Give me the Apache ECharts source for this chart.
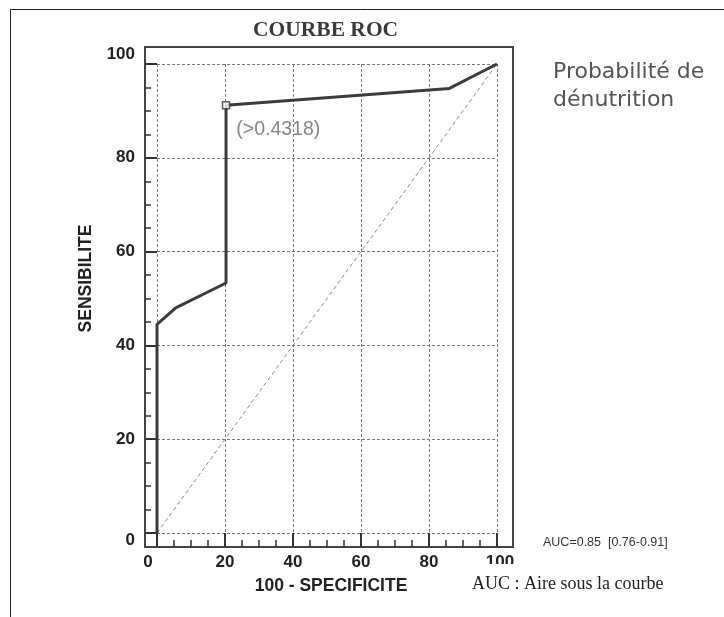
<!DOCTYPE html>
<html><head><meta charset="utf-8">
<script src="https://cdn.jsdelivr.net/npm/echarts@6/dist/echarts.min.js"></script>
<style>html,body{margin:0;padding:0;background:#fff}#c{width:724px;height:617px}</style>
</head><body><div id="c"></div>
<script>
// ROC curve points (100 - specificity, sensitivity)
const rocX = [0, 0, 5.5, 20.3, 20.3, 86, 100];
const rocY = [0, 44.5, 48, 53.3, 91.2, 94.8, 100];
// reference diagonal
const diagX = [0, 100];
const diagY = [0, 100];
// optimal cut-off point
const cutX = [20.3];
const cutY = [91.2];
const cutLabel = '(>0.4318)';
// ticks
const xMajor = [0, 20, 40, 60, 80, 100];
const yMajor = [0, 20, 40, 60, 80, 100];
const xMinor = [5, 10, 15, 25, 30, 35, 45, 50, 55, 65, 70, 75, 85, 90, 95];
const yMinor = [5, 10, 15, 25, 30, 35, 45, 50, 55, 65, 70, 75, 85, 90, 95];
// texts
const titleText = 'COURBE ROC';
const xName = '100 - SPECIFICITE';
const yName = 'SENSIBILITE';
const sideNote = 'Probabilité de\ndénutrition';
const aucText = 'AUC=0.85  [0.76-0.91]';
const aucLegend = 'AUC : Aire sous la courbe';

// layout: outer frame box and inner 0..100 data box
const frame = {left: 145, top: 47, right: 513, bottom: 547};
const inner = {left: 157, top: 64, right: 497, bottom: 533};
const xPx = (inner.right - inner.left) / 100;
const yPx = (inner.bottom - inner.top) / 100;
const xMin = -(inner.left - frame.left) / xPx, xMax = 100 + (frame.right - inner.right) / xPx;
const yMin = -(frame.bottom - inner.bottom) / yPx, yMax = 100 + (inner.top - frame.top) / yPx;

const sans = "'Liberation Sans', Arial, sans-serif";
const tickFont = {fontFamily: sans, fontWeight: 'bold', fontSize: 17, color: '#222'};
const tickLine = {color: '#333', width: 2};
const minorLine = {color: '#333', width: 1.5};

const chart = echarts.init(document.getElementById('c'), null, {renderer: 'canvas'});
const pairs = (xs, ys) => xs.map((x, i) => [x, ys[i]]);

const tickAxis = (grid, min, max, pos, vals, len, ls) => ({
  gridIndex: grid, type: 'value', min: min, max: max, position: pos, offset: 0,
  axisLine: {show: false, onZero: false}, axisLabel: {show: false}, splitLine: {show: false},
  axisTick: {show: true, inside: true, length: len, customValues: vals, lineStyle: ls}
});

chart.setOption({
  animation: false,
  backgroundColor: '#fff',
  title: [
    {text: titleText, left: 253, top: 19, padding: 0,
     textStyle: {fontFamily: "'Liberation Serif', 'Times New Roman', serif", fontWeight: 'bold', fontSize: 21.5, color: '#3a3a3a'}},
    {text: sideNote, left: 553, top: 58, padding: 0,
     textStyle: {fontFamily: "'DejaVu Sans', sans-serif", fontWeight: 'normal', fontSize: 22, lineHeight: 28, color: '#555'}},
    {text: aucText, left: 543, top: 536, padding: 0,
     textStyle: {fontFamily: sans, fontWeight: 'normal', fontSize: 12.5, color: '#333'}},
    {text: aucLegend, left: 472, top: 575, padding: 0, z: 10,
     textStyle: {fontFamily: "'Liberation Serif', 'Times New Roman', serif", fontWeight: 'normal', fontSize: 18, color: '#222'}}
  ],
  graphic: [
    {type: 'rect', shape: {x: 10.5, y: 9.5, width: 900, height: 800}, style: {fill: 'none', stroke: '#222', lineWidth: 1}, silent: true, z: -10},
    {type: 'rect', shape: {x: 482, y: 564, width: 36, height: 10}, style: {fill: '#fff'}, silent: true, z: 3}
  ],
  grid: [
    {left: frame.left, top: frame.top, width: frame.right - frame.left, height: frame.bottom - frame.top,
     show: true, borderColor: '#444', borderWidth: 2, backgroundColor: 'transparent'},
    {left: inner.left, top: inner.top, width: inner.right - inner.left, height: inner.bottom - inner.top, show: false}
  ],
  xAxis: [
    tickAxis(0, xMin, xMax, 'bottom', xMajor, 14, tickLine),
    tickAxis(0, xMin, xMax, 'bottom', xMinor, 7, minorLine),
    {gridIndex: 1, type: 'value', min: 0, max: 100, interval: 20, position: 'bottom', offset: frame.bottom - inner.bottom,
     name: xName, nameLocation: 'middle', nameGap: 30,
     nameTextStyle: {fontFamily: sans, fontWeight: 'bold', fontSize: 17.5, color: '#222', padding: [0, 0, 0, 8]},
     axisLine: {show: false, onZero: false}, axisTick: {show: false},
     splitLine: {show: true, lineStyle: {color: '#777', width: 1, type: [3, 2]}},
     axisLabel: Object.assign({margin: 7,
       formatter: v => xMajor.indexOf(v) < 0 ? '' : (v === 0 ? '{s|0}' : (v === 100 ? '{e|100}' : String(v))),
       rich: {s: Object.assign({padding: [0, 18, 0, 0]}, tickFont), e: Object.assign({padding: [0, 0, 0, 6]}, tickFont)}}, tickFont)}
  ],
  yAxis: [
    tickAxis(0, yMin, yMax, 'left', yMajor, 12, tickLine),
    tickAxis(0, yMin, yMax, 'left', yMinor, 6, minorLine),
    {gridIndex: 1, type: 'value', min: 0, max: 100, interval: 20, position: 'left', offset: inner.left - frame.left,
     name: yName, nameLocation: 'middle', nameGap: 50,
     nameTextStyle: {fontFamily: sans, fontWeight: 'bold', fontSize: 17.5, color: '#222', padding: [0, 0, 0, 40]},
     axisLine: {show: false, onZero: false}, axisTick: {show: false},
     splitLine: {show: true, lineStyle: {color: '#777', width: 1, type: [3, 2]}},
     axisLabel: Object.assign({margin: 10,
       formatter: v => yMajor.indexOf(v) < 0 ? '' : (v === 100 ? '{t|100}' : (v === 0 ? '{b|0}' : String(v))),
       rich: {t: Object.assign({padding: [0, 0, 20, 0]}, tickFont), b: Object.assign({padding: [14, 0, 0, 0]}, tickFont)}}, tickFont)}
  ],
  series: [
    {type: 'line', xAxisIndex: 2, yAxisIndex: 2, data: pairs(diagX, diagY), symbol: 'none', silent: true,
     lineStyle: {color: '#888', width: 1, type: [4, 3]}, z: 2},
    {type: 'line', xAxisIndex: 2, yAxisIndex: 2, data: pairs(rocX, rocY), symbol: 'none', silent: true, clip: false,
     lineStyle: {color: '#3c3c3c', width: 3}, z: 3},
    {type: 'scatter', xAxisIndex: 2, yAxisIndex: 2, data: pairs(cutX, cutY), symbol: 'rect', symbolSize: 7, silent: true, z: 4,
     itemStyle: {color: '#fff', borderColor: '#333', borderWidth: 1.5},
     label: {show: true, formatter: cutLabel, position: [14.5, 28.5], align: 'left', verticalAlign: 'middle',
       fontFamily: sans, fontWeight: 'normal', fontSize: 19.5, color: '#666'}}
  ]
});
</script></body></html>
